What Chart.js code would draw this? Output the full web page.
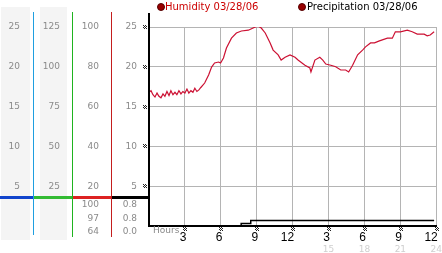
<!DOCTYPE html>
<html><head><meta charset="utf-8">
<script src="https://cdn.jsdelivr.net/npm/chart.js@4/dist/chart.umd.min.js"></script>
<style>html,body{margin:0;padding:0;background:#fff;overflow:hidden}#wrap{width:442px;height:253px;position:relative}</style>
</head><body><div id="wrap"><canvas id="c" width="442" height="253"></canvas></div>
<script>
// ---- data ----
const humidityLabel = 'Humidity 03/28/06';
const precipLabel = 'Precipitation 03/28/06';
const humidityHours = [0,0.17,0.33,0.5,0.67,0.83,1,1.17,1.33,1.5,1.67,1.83,2,2.17,2.33,2.5,2.67,2.83,3,3.17,3.33,3.5,3.67,3.83,4,4.17,4.33,
  4.65,4.98,5.23,5.48,5.81,5.98,6.22,6.47,6.89,7.3,7.72,8.3,8.88,9.13,9.38,9.71,10.12,10.37,10.79,11.04,11.37,11.78,12.2,12.45,
  13.03,13.44,13.53,13.86,14.27,14.52,14.77,15.19,15.6,16.02,16.43,16.68,17.01,17.43,17.84,18.09,18.51,18.84,19.25,19.92,20.33,
  20.58,21.0,21.58,21.99,22.41,22.99,23.24,23.49,23.82];
const humidityValues = [16.8,17.0,16.5,16.2,16.7,16.3,16.1,16.6,16.3,16.9,16.4,17.0,16.5,16.8,16.5,17.0,16.6,16.9,16.7,17.2,16.7,17.0,16.8,17.3,16.9,17.1,17.4,
  17.96,18.97,19.97,20.48,20.6,20.48,21.1,22.36,23.6,24.25,24.5,24.6,25.0,25.1,24.87,24.25,23.0,22.1,21.5,20.85,21.2,21.5,21.2,20.85,
  20.2,19.85,19.35,20.85,21.2,20.85,20.35,20.2,20.0,19.6,19.6,19.35,20.2,21.5,22.1,22.5,23.0,23.0,23.25,23.6,23.6,
  24.4,24.4,24.6,24.4,24.1,24.1,23.9,24.0,24.4];
const precipHours = [0,7.7,7.7,8.5,8.5,23.82];
const precipValues = [0,0,0.3,0.3,0.7,0.7];

const colATicks = [5,10,15,20,25];
const colBTicks = [25,50,75,100,125];
const colCTicks = [20,40,60,80,100];
const colDTicks = [5,10,15,20,25];
const humidityStats = [100,97,64];
const precipStats = [0.8,0.8,0.0];
const xTickHours = [3,6,9,12,15,18,21,24];
const xTickLabels = ['3','6','9','12','3','6','9','12'];
const x2TickLabels = ['','','','','15','18','21','24'];

// ---- helpers ----
const FONT = '"DejaVu Sans", Verdana, sans-serif';
function fixTicks(list){ return function(scale){ scale.ticks = list.map(v=>({value:v})); }; }
function fixWidth(w){ return function(scale){ scale.width = w; }; }
function fixHeight(h){ return function(scale){ scale.height = h; }; }
function mark(ctx, x, y){ // small checkered tick mark
  ctx.fillStyle = '#222';
  for (let r=0;r<4;r++) for (let c=0;c<4;c++) if ((r+c)%2===0) ctx.fillRect(Math.round(x)+c, Math.round(y)+r, 1, 1);
}
function yAxis(ticksList, w, weight, pad){
  return {
    type:'linear', position:'left', min:0, max:25, weight:weight,
    afterBuildTicks: fixTicks([0].concat(ticksList)), afterFit: fixWidth(w),
    grid:{display:false, drawTicks:false},
    border:{display:false},
    ticks:{color:'#8a8a8a', padding:pad, font:{family:FONT,size:9}, callback:(v)=> v===0?'':String(v)}
  };
}

const decor = {
  id:'decor',
  beforeDraw(chart){
    const ctx = chart.ctx; const s = chart.scales;
    ctx.save();
    ctx.fillStyle = '#f4f4f4';
    ctx.fillRect(s.colA.left+1, 7, s.colA.right-s.colA.left-4, 233);
    ctx.fillRect(s.colB.left+7, 7, s.colB.right-s.colB.left-12, 233);
    ctx.restore();
  },
  afterDraw(chart){
    const ctx = chart.ctx; const s = chart.scales; const ca = chart.chartArea;
    ctx.save();
    // horizontal coloured separator
    const hy = 197;
    const segs = [[0,s.colA.right,'#1144cc'],[s.colA.right,s.colB.right,'#33bb33'],[s.colB.right,s.colC.right,'#dd2222'],[s.colC.right,ca.left,'#000']];
    for (const [a,b,c] of segs){ ctx.fillStyle=c; ctx.fillRect(a, hy-1, b-a+1, 3); }
    // vertical separators (scale edges)
    const vlines = [[s.colA.right,'#1f9fe0',235],[s.colB.right,'#1fb31f',237],[s.colC.right,'#c41e1e',237]];
    for (const [x,c,b] of vlines){ ctx.fillStyle=c; ctx.fillRect(Math.round(x), 12, 1, b-12); }
    ctx.fillStyle='#000'; ctx.fillRect(Math.round(ca.left)-1, 13, 2, ca.bottom-13);
    // stats
    ctx.font = '9px '+FONT; ctx.fillStyle='#8a8a8a'; ctx.textAlign='right'; ctx.textBaseline='middle';
    const sy = [205,219,232];
    humidityStats.forEach((v,i)=> ctx.fillText(String(v), s.colC.right-12, sy[i]));
    precipStats.forEach((v,i)=> ctx.fillText(v.toFixed(1), ca.left-12, sy[i]));
    // Hours
    ctx.textAlign='left'; ctx.fillText('Hours', ca.left+4, 231);
    // tick marks
    colDTicks.forEach(v=> mark(ctx, ca.left-6, s.y.getPixelForValue(v)-2));
    xTickHours.forEach(v=> mark(ctx, s.x.getPixelForValue(v)-1.5, 227));
    // legend
    ctx.font = '10px '+FONT; ctx.textBaseline='middle';
    const items = [[161,165,humidityLabel,'#cc0000'],[302,307,precipLabel,'#000']];
    for (const [cx,tx,t,c] of items){
      ctx.beginPath(); ctx.arc(cx,7,3.5,0,Math.PI*2); ctx.fillStyle='#990000'; ctx.fill();
      ctx.strokeStyle='#550000'; ctx.lineWidth=1; ctx.stroke();
      ctx.fillStyle=c; ctx.fillText(t, tx, 7);
    }
    ctx.restore();
  }
};

new Chart(document.getElementById('c'), {
  type:'line',
  data:{ datasets:[
    {label:humidityLabel, data:humidityHours.map((h,i)=>({x:h,y:humidityValues[i]})), borderColor:'#cc1133', borderWidth:1.2, pointRadius:0, tension:0, yAxisID:'y', xAxisID:'x'},
    {label:precipLabel, data:precipHours.map((h,i)=>({x:h,y:precipValues[i]})), borderColor:'#000', borderWidth:1.5, pointRadius:0, tension:0, yAxisID:'y', xAxisID:'x'}
  ]},
  options:{
    responsive:false, animation:false, events:[],
    layout:{padding:{top:27,left:0,right:3,bottom:0}},
    plugins:{legend:{display:false}, tooltip:{enabled:false}},
    scales:{
      colA: yAxis(colATicks,33,5,13),
      colB: Object.assign(yAxis(colBTicks,39,4,12),{max:125}),
      colC: Object.assign(yAxis(colCTicks,39,3,12),{max:100}),
      y: {
        type:'linear', position:'left', min:0, max:25, weight:2,
        afterBuildTicks: fixTicks([0].concat(colDTicks)), afterFit: fixWidth(38),
        grid:{color:'#b4b4b4', lineWidth:1, drawTicks:false},
        border:{display:true, color:'#000', width:2},
        ticks:{color:'#8a8a8a', padding:12, font:{family:FONT,size:9}, callback:(v)=> v===0?'':String(v)}
      },
      x: {
        type:'linear', position:'bottom', min:0, max:24, weight:1,
        afterBuildTicks: fixTicks(xTickHours), afterFit: fixHeight(18),
        grid:{color:'#b4b4b4', lineWidth:1, drawTicks:true, tickLength:4, tickColor:'rgba(0,0,0,0)'},
        border:{display:true, color:'#000', width:2},
        ticks:{color:'#000', padding:0, align:'end', labelOffset:1.5, maxRotation:0, autoSkip:false,
          font:{family:'"Liberation Sans Narrow", "Liberation Sans", sans-serif', size:12},
          callback:(v,i)=> xTickLabels[i]}
      },
      x2: {
        type:'linear', position:'bottom', min:0, max:24, weight:2,
        afterBuildTicks: fixTicks(xTickHours), afterFit: fixHeight(9),
        grid:{display:false, drawTicks:false}, border:{display:false},
        ticks:{color:'#cfcfcf', padding:0, maxRotation:0, autoSkip:false, font:{family:FONT,size:9},
          callback:(v,i)=> x2TickLabels[i]}
      }
    }
  },
  plugins:[decor]
});
</script></body></html>
